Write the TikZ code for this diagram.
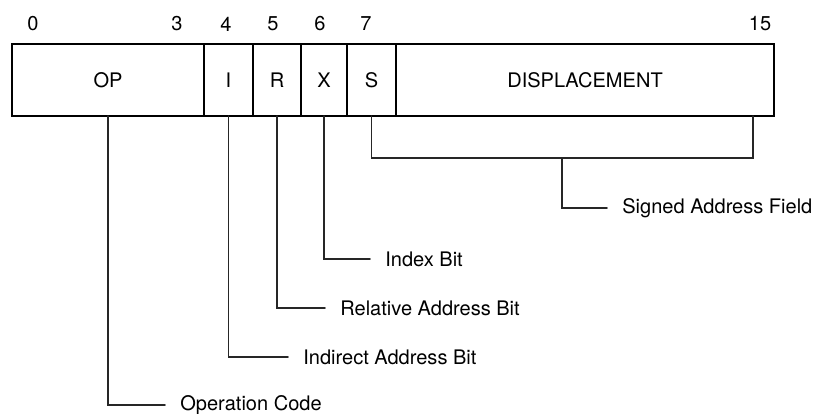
\documentclass[tikz,border=0pt]{standalone}
\usepackage{fontspec}
\setsansfont{TeX Gyre Heros}
\usepackage{tikz}
\usetikzlibrary{calc,positioning}

\begin{document}
\begin{tikzpicture}[
  font=\sffamily\fontsize{11.4}{13.7}\selectfont,
  line cap=round,
  field/.style={rectangle, draw=black, line width=1.1pt, minimum height=1.44cm,
    inner sep=0pt, outer sep=0pt},
  bitnum/.style={inner sep=0pt},
  lead/.style={line width=1pt, draw=black!85},
  lbl/.style={anchor=west, inner xsep=0.3cm, inner ysep=1pt},
]
  \useasboundingbox (0,0) rectangle (16.38,-8.26);
  % Instruction word fields
  \node[field, anchor=west, minimum width=3.84cm] (op) at (0.24,-1.6) {OP};
  \node[field, right=0pt of op, minimum width=0.98cm] (ind) {I};
  \node[field, right=0pt of ind, minimum width=0.96cm] (rel) {R};
  \node[field, right=0pt of rel, minimum width=0.92cm] (idx) {X};
  \node[field, right=0pt of idx, minimum width=0.98cm] (sgn) {S};
  \node[field, right=0pt of sgn, minimum width=7.56cm] (disp) {DISPLACEMENT};
  % Bit numbers
  \node[bitnum] (b0) at (0.66,-0.48) {0};
  \node[bitnum] (b3) at (3.54,-0.48) {3};
  \node[bitnum] (b4) at (4.52,-0.48) {4};
  \node[bitnum] (b5) at (5.46,-0.48) {5};
  \node[bitnum] (b6) at (6.40,-0.48) {6};
  \node[bitnum] (b7) at (7.32,-0.48) {7};
  \node[bitnum] (b15) at (15.2,-0.48) {15};
  % Field descriptions
  \node[lbl] (opcode) at (3.3,-8.1) {Operation Code};
  \node[lbl] (indirect) at (5.76,-7.14) {Indirect Address Bit};
  \node[lbl] (relative) at (6.5,-6.16) {Relative Address Bit};
  \node[lbl] (index) at (7.4,-5.18) {Index Bit};
  \node[lbl] (signed) at (12.14,-4.16) {Signed Address Field};
  % Bracket under S and DISPLACEMENT
  \coordinate (dispend) at ($(disp.south east)+(-0.42,0)$);
  \coordinate (brkr) at (dispend |- 0,-3.16);
  \coordinate (brkm) at ($(sgn.south |- brkr)!0.5!(brkr)$);
  % Leaders
  \draw[lead] (op.south) |- (opcode.west);
  \draw[lead] (ind.south) |- (indirect.west);
  \draw[lead] (rel.south) |- (relative.west);
  \draw[lead] (idx.south) |- (index.west);
  \draw[lead] (sgn.south) |- (brkr) -- (dispend);
  \draw[lead] (brkm) |- (signed.west);
\end{tikzpicture}
\end{document}
